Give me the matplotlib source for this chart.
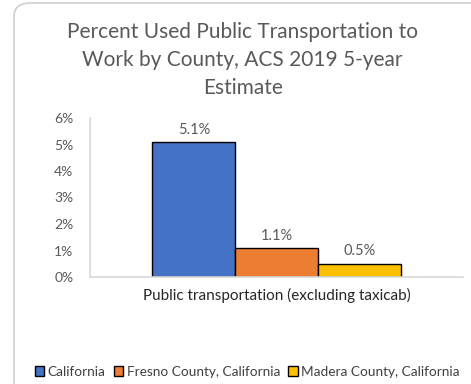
import matplotlib.pyplot as plt
from matplotlib.patches import FancyBboxPatch
from matplotlib.ticker import PercentFormatter

category = 'Public transportation (excluding taxicab)'
places = ['California', 'Fresno County, California', 'Madera County, California']
shares = [5.1, 1.1, 0.5]
colors = ['#4472C4', '#ED7D31', '#FFC000']

plt.rcParams['font.family'] = ['Lato', 'DejaVu Sans']

dpi = 100
fig = plt.figure(figsize=(471 / dpi, 384 / dpi), dpi=dpi)

# rounded card frame around the chart
frame = FancyBboxPatch((14 / 471, -0.05), 1.2, 1.05 - 3 / 384,
                       boxstyle='round,pad=0,rounding_size=0.035',
                       transform=fig.transFigure, facecolor='none',
                       edgecolor='#cfcfcf', linewidth=1.2, zorder=10)
fig.patches.append(frame)

ax = fig.add_axes([90 / 471, 1 - 277 / 384, 373 / 471, 159 / 384])

w = 0.665 / 3
for i, (name, val, col) in enumerate(zip(places, shares, colors)):
    x = (i - 1) * w
    ax.bar(x, val, width=w, color=col, edgecolor='black', linewidth=1.0, label=name)
    ax.text(x, val + 0.2, f'{val:.1f}%', ha='center', va='bottom',
            fontsize=10.5, color='#595959')

ax.set_xlim(-0.5, 0.5)
ax.set_ylim(0, 6)
ax.set_yticks(range(0, 7))
ax.yaxis.set_major_formatter(PercentFormatter(decimals=0))
ax.set_xticks([0])
ax.set_xticklabels([category])
ax.tick_params(axis='x', length=0, pad=8, labelsize=11, labelcolor='#262626')
ax.tick_params(axis='y', length=0, pad=12, labelsize=10, labelcolor='#595959')
for s in ['top', 'right']:
    ax.spines[s].set_visible(False)
for s in ['left', 'bottom']:
    ax.spines[s].set_color('#d9d9d9')
    ax.spines[s].set_linewidth(1.2)

fig.text(0.515, 1 - 22 / 384,
         'Percent Used Public Transportation to\nWork by County, ACS 2019 5-year\nEstimate',
         ha='center', va='top', fontsize=15, color='#595959', linespacing=1.5)

leg = fig.legend(loc='center', bbox_to_anchor=(0.525, 1 - 372 / 384), ncol=3,
                 frameon=False, fontsize=9.8, handlelength=0.7, handleheight=0.7,
                 handletextpad=0.25, columnspacing=0.6, labelcolor='#404040')

fig.savefig('out.png', dpi=dpi)
